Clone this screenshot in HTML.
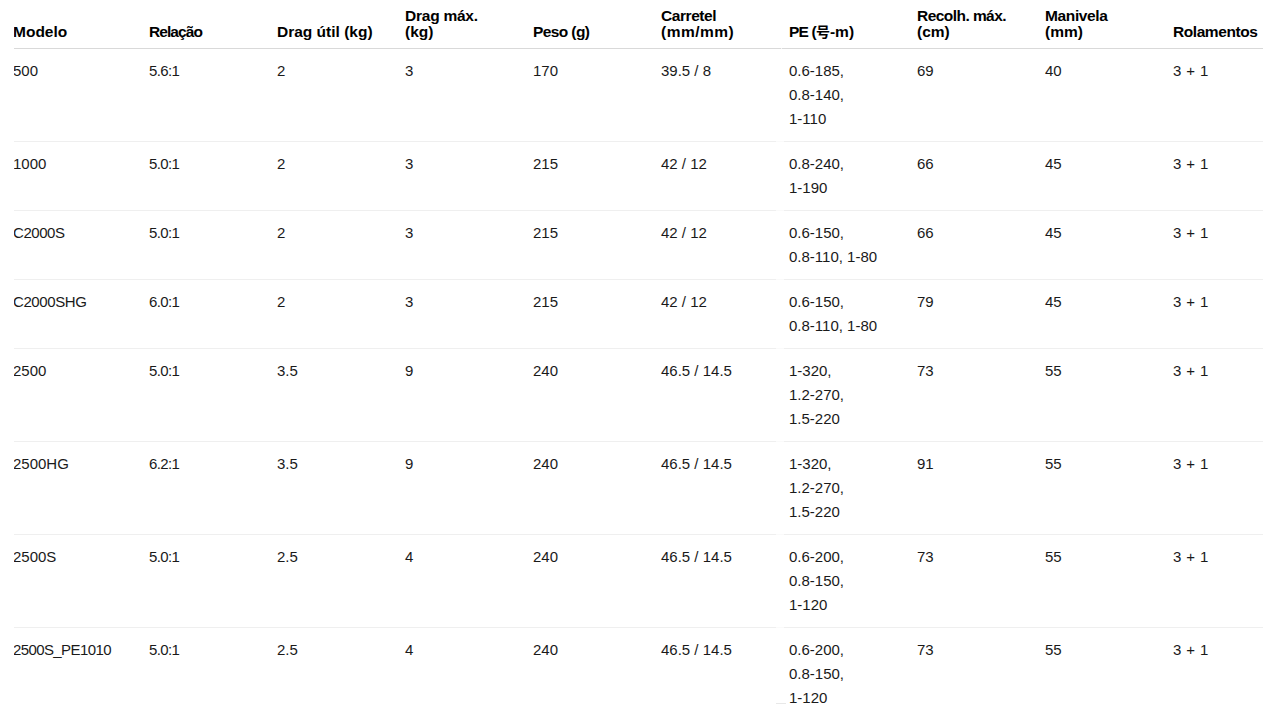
<!DOCTYPE html>
<html lang="pt">
<head>
<meta charset="utf-8">
<title>Especificações</title>
<style>
html,body{margin:0;padding:0;background:#fff;}
body{width:1263px;height:704px;overflow:hidden;position:relative;
  font-family:"Liberation Sans","Noto Sans CJK SC",sans-serif;color:#111;}
table{position:absolute;left:13px;top:-2px;border-collapse:collapse;table-layout:fixed;width:1288px;}
col.c1{width:136px;}
col.cn{width:128px;}
th{font-weight:bold;font-size:15.5px;line-height:16px;text-align:left;vertical-align:bottom;
  padding:10px 8px 8px 0;border-bottom:1px solid #d9d9d9;color:#000;}
td{font-size:15px;line-height:24px;vertical-align:top;padding:10px 8px 10px 0;
  border-bottom:1px solid #efefef;white-space:nowrap;color:#1a1a1a;}
td:nth-child(2){letter-spacing:-0.6px;}
td:nth-child(10){word-spacing:0.8px;}
.cjk{font-family:"Noto Sans CJK SC","Noto Sans CJK JP",sans-serif;font-size:14px;}
.edge{position:absolute;left:13px;top:0;width:1px;height:704px;background:#fff;}
.gap{position:absolute;left:776px;top:49px;width:8px;height:655px;background:rgba(255,255,255,0.7);}
.hgap{position:absolute;left:781px;top:48px;width:1px;height:1px;background:#f4f4f4;}
.mark{position:absolute;left:776px;top:703px;width:10px;height:1px;background:#e8e8e8;}
</style>
</head>
<body>
<table>
<colgroup><col class="c1"><col class="cn"><col class="cn"><col class="cn"><col class="cn"><col class="cn"><col class="cn"><col class="cn"><col class="cn"><col class="cn"></colgroup>
<thead>
<tr><th>Modelo</th><th style="letter-spacing:-0.93px">Relação</th><th>Drag útil (kg)</th><th><span style="letter-spacing:-0.24px">Drag máx.</span><br>(kg)</th><th style="letter-spacing:-0.6px">Peso (g)</th><th><span style="letter-spacing:-0.43px">Carretel</span><br><span style="letter-spacing:0.5px">(mm/mm)</span></th><th><span style="letter-spacing:-0.8px">PE (</span><span class="cjk">号</span>-m)</th><th><span style="letter-spacing:-0.55px">Recolh. máx.</span><br>(cm)</th><th><span style="letter-spacing:-0.37px">Manivela</span><br>(mm)</th><th style="letter-spacing:-0.43px">Rolamentos</th></tr>
</thead>
<tbody>
<tr><td>500</td><td>5.6:1</td><td>2</td><td>3</td><td>170</td><td>39.5 / 8</td><td>0.6-185,<br>0.8-140,<br>1-110</td><td>69</td><td>40</td><td>3 + 1</td></tr>
<tr><td>1000</td><td>5.0:1</td><td>2</td><td>3</td><td>215</td><td>42 / 12</td><td>0.8-240,<br>1-190</td><td>66</td><td>45</td><td>3 + 1</td></tr>
<tr><td style="letter-spacing:-0.45px">C2000S</td><td>5.0:1</td><td>2</td><td>3</td><td>215</td><td>42 / 12</td><td>0.6-150,<br>0.8-110, 1-80</td><td>66</td><td>45</td><td>3 + 1</td></tr>
<tr><td style="letter-spacing:-0.4px">C2000SHG</td><td>6.0:1</td><td>2</td><td>3</td><td>215</td><td>42 / 12</td><td>0.6-150,<br>0.8-110, 1-80</td><td>79</td><td>45</td><td>3 + 1</td></tr>
<tr><td>2500</td><td>5.0:1</td><td>3.5</td><td>9</td><td>240</td><td>46.5 / 14.5</td><td>1-320,<br>1.2-270,<br>1.5-220</td><td>73</td><td>55</td><td>3 + 1</td></tr>
<tr><td>2500HG</td><td>6.2:1</td><td>3.5</td><td>9</td><td>240</td><td>46.5 / 14.5</td><td>1-320,<br>1.2-270,<br>1.5-220</td><td>91</td><td>55</td><td>3 + 1</td></tr>
<tr><td>2500S</td><td>5.0:1</td><td>2.5</td><td>4</td><td>240</td><td>46.5 / 14.5</td><td>0.6-200,<br>0.8-150,<br>1-120</td><td>73</td><td>55</td><td>3 + 1</td></tr>
<tr><td style="letter-spacing:-0.6px">2500S_PE1010</td><td>5.0:1</td><td>2.5</td><td>4</td><td>240</td><td>46.5 / 14.5</td><td>0.6-200,<br>0.8-150,<br>1-120</td><td>73</td><td>55</td><td>3 + 1</td></tr>
</tbody>
</table>
<div class="edge"></div><div class="gap"></div><div class="hgap"></div><div class="mark"></div>
</body>
</html>
